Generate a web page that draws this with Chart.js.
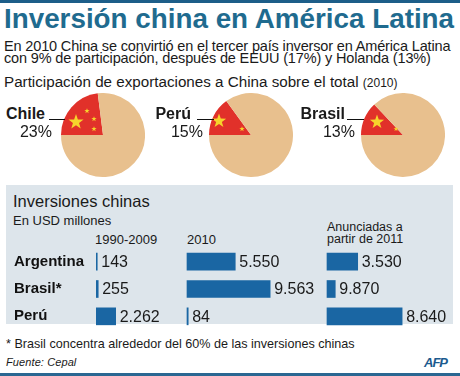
<!DOCTYPE html>
<html>
<head>
<meta charset="utf-8">
<script src="https://cdn.jsdelivr.net/npm/chart.js@4"></script>
<style>
  html, body { margin: 0; padding: 0; }
  body { width: 460px; height: 376px; position: relative; overflow: hidden; background: #fff;
         font-family: "Liberation Sans", Arial, sans-serif; color: #1a1a1a; }
  .t { position: absolute; line-height: 1; white-space: nowrap; }
  .bar-top { position: absolute; left: 0; top: 0; width: 460px; height: 3px; background: #1d5e89; }
  .bar-bottom { position: absolute; left: 0; top: 373px; width: 460px; height: 3px; background: #2a6792; }
  .panel { position: absolute; left: 6px; top: 185px; width: 447px; height: 139px; background: #dde5eb; }
  .lead { position: absolute; height: 1px; background: #111; }
  canvas { position: absolute; }
</style>
</head>
<body>
<div class="bar-top"></div>
<div class="t" style="left:4px;top:5px;font-size:27.8px;font-weight:bold;color:#1f6b8f;">Inversión china en América Latina</div>
<div class="t" style="left:4px;top:39px;font-size:14.5px;letter-spacing:-0.15px;">En 2010 China se convirtió en el tercer país inversor en América Latina</div>
<div class="t" style="left:4px;top:51px;font-size:14.5px;letter-spacing:-0.15px;">con 9% de participación, después de EEUU (17%) y Holanda (13%)</div>
<div class="t" style="left:4px;top:74px;font-size:15.2px;">Participación de exportaciones a China sobre el total <span style="font-size:12px">(2010)</span></div>

<div class="panel"></div>
<div class="t" style="left:13px;top:193px;font-size:16.5px;">Inversiones chinas</div>
<div class="t" style="left:13px;top:214px;font-size:13px;">En USD millones</div>
<div class="t" id="col-head-0" style="left:95px;top:233px;font-size:13px;"></div>
<div class="t" id="col-head-1" style="left:187px;top:233px;font-size:13px;"></div>
<div class="t" id="col-head-2" style="left:327px;top:221px;font-size:12.5px;line-height:12px;white-space:pre;"></div>

<div class="t" style="left:6px;top:338px;font-size:12.6px;">* Brasil concentra alrededor del 60% de las inversiones chinas</div>
<div class="t" style="left:6px;top:357px;font-size:11px;font-style:italic;letter-spacing:0.1px;">Fuente: Cepal</div>
<div class="t" style="left:424px;top:356px;font-size:13px;font-weight:bold;font-style:italic;color:#1b5a8e;letter-spacing:-1px;">AFP</div>
<div class="bar-bottom"></div>

<canvas id="pie-0" width="84" height="84" style="left:61px;top:93px;"></canvas>
<canvas id="pie-1" width="84" height="84" style="left:209px;top:93px;"></canvas>
<canvas id="pie-2" width="84" height="84" style="left:361px;top:93px;"></canvas>
<div id="pie-labels"></div>

<canvas id="bars" width="447" height="82" style="left:6px;top:248px;"></canvas>

<script>
// --- data ---
const pieCountries = ['Chile', 'Perú', 'Brasil'];
const pieShares    = [23, 15, 13];          // % of exports going to China (2010)

const barCountries = ['Argentina', 'Brasil*', 'Perú'];
const colHeads     = ['1990-2009', '2010', 'Anunciadas a\npartir de 2011'];
const inv19902009  = [143, 255, 2262];
const inv2010      = [5550, 9563, 84];
const invAnnounced = [3530, 950, 8640];     // bar length as drawn (the Brasil bar is short in the source)
const lbl19902009  = ['143', '255', '2.262'];
const lbl2010      = ['5.550', '9.563', '84'];
const lblAnnounced = ['3.530', '9.870', '8.640'];

(function () {
  const RED = '#e1312a', TAN = '#e8c08e', STAR = '#f6d42c', BLUE = '#1a66a3';

  colHeads.forEach((h, i) => { document.getElementById('col-head-' + i).textContent = h; });

  // star layout per pie, relative to the pie centre
  const starSets = [
    [[-27, -13, 8], [-16, -24, 2.8], [-9, -16, 2.8], [-9, -6, 2.8]],
    [[-32, -14, 7.5], [-9, -6, 2.8]],
    [[-26, -13, 7.5], [-7, -6, 2.6]]
  ];
  const labelPos = [ // right edge of name, right edge of %, leader line x0/x1
    { name: 45, pct: 52, l0: 49, l1: 65 },
    { name: 191, pct: 203, l0: 197, l1: 214 },
    { name: 345, pct: 355, l0: 347, l1: 364 }
  ];

  function drawStar(ctx, x, y, r) {
    ctx.beginPath();
    for (let k = 0; k < 10; k++) {
      const a = -Math.PI / 2 + k * Math.PI / 5;
      const rr = k % 2 === 0 ? r : r * 0.4;
      ctx.lineTo(x + rr * Math.cos(a), y + rr * Math.sin(a));
    }
    ctx.closePath();
    ctx.fill();
  }

  const starPlugin = {
    id: 'stars',
    afterDatasetsDraw(chart, args, opts) {
      const arc = chart.getDatasetMeta(0).data[0];
      const ctx = chart.ctx;
      ctx.save();
      ctx.fillStyle = STAR;
      (opts.list || []).forEach(s => drawStar(ctx, arc.x + s[0], arc.y + s[1], s[2]));
      ctx.restore();
    }
  };

  const labelsEl = document.getElementById('pie-labels');
  pieCountries.forEach((name, i) => {
    new Chart(document.getElementById('pie-' + i), {
      type: 'pie',
      data: {
        labels: ['China', 'Resto'],
        datasets: [{
          data: [pieShares[i], 100 - pieShares[i]],
          backgroundColor: [RED, TAN],
          borderWidth: 0,
          hoverOffset: 0
        }]
      },
      options: {
        responsive: false,
        animation: false,
        rotation: -90,
        layout: { padding: 0 },
        plugins: { legend: { display: false }, tooltip: { enabled: false }, stars: { list: starSets[i] } },
        events: []
      },
      plugins: [starPlugin]
    });

    const p = labelPos[i];
    const n = document.createElement('div');
    n.className = 't';
    n.style.cssText = `right:${460 - p.name}px;top:106px;font-size:16px;font-weight:bold;`;
    n.textContent = name;
    const pc = document.createElement('div');
    pc.className = 't';
    pc.style.cssText = `right:${460 - p.pct}px;top:124px;font-size:16px;`;
    pc.textContent = pieShares[i] + '%';
    const ln = document.createElement('div');
    ln.className = 'lead';
    ln.style.cssText = `left:${p.l0}px;top:119px;width:${p.l1 - p.l0}px;`;
    labelsEl.append(n, pc, ln);
  });

  // --- bars: one chart, three hidden x scales sharing the same units per pixel ---
  const UNITS_PER_PX = 115;
  const AREA_W = 357;                  // chart area width in px
  const colStart = [0, 91, 231];       // bar origin of each column, px from chart area left
  const xScale = off => ({
    type: 'linear', display: false,
    min: -off * UNITS_PER_PX, max: (AREA_W - off) * UNITS_PER_PX
  });

  const valueLabels = [lbl19902009, lbl2010, lblAnnounced];
  const valuePlugin = {
    id: 'values',
    afterDatasetsDraw(chart) {
      const ctx = chart.ctx;
      ctx.save();
      ctx.font = '16px "Liberation Sans", Arial, sans-serif';
      ctx.fillStyle = '#1a1a1a';
      ctx.textBaseline = 'middle';
      chart.data.datasets.forEach((ds, di) => {
        chart.getDatasetMeta(di).data.forEach((bar, j) => {
          ctx.fillText(valueLabels[di][j], bar.x + 4, bar.y + 1);
        });
      });
      ctx.restore();
    }
  };

  const common = { backgroundColor: BLUE, borderWidth: 0, barThickness: 17, grouped: false, minBarLength: 1.2 };

  new Chart(document.getElementById('bars'), {
    type: 'bar',
    data: {
      labels: barCountries,
      datasets: [
        Object.assign({ label: colHeads[0], data: inv19902009, xAxisID: 'x1' }, common),
        Object.assign({ label: colHeads[1], data: inv2010, xAxisID: 'x2' }, common),
        Object.assign({ label: colHeads[2], data: invAnnounced, xAxisID: 'x3' }, common)
      ]
    },
    options: {
      indexAxis: 'y',
      responsive: false,
      animation: false,
      events: [],
      layout: { padding: { left: 8, right: 0, top: 0, bottom: 0 } },
      scales: {
        x1: xScale(colStart[0]),
        x2: xScale(colStart[1]),
        x3: xScale(colStart[2]),
        y: {
          grid: { display: false },
          border: { display: false },
          afterFit(scale) {
            scale.width = 82;
            // rows sit on the full canvas height
            scale.paddingTop = 0;
            scale.paddingBottom = 0;
          },
          ticks: {
            crossAlign: 'far',
            padding: 0,
            color: '#111',
            font: { family: '"Liberation Sans", Arial, sans-serif', size: 15, weight: 'bold' }
          }
        }
      },
      plugins: { legend: { display: false }, tooltip: { enabled: false } }
    },
    plugins: [valuePlugin]
  });
})();
</script>
</body>
</html>
